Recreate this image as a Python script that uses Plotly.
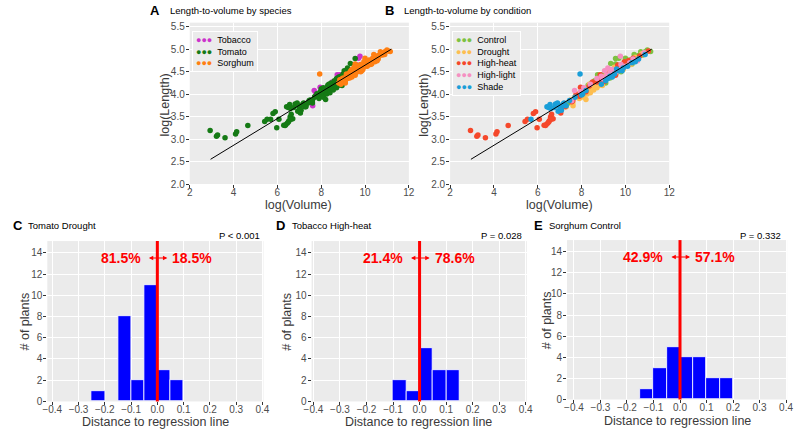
import plotly.graph_objects as go

# ---- scatter data: log(Volume), log(Length), condition code, read off panels A/B
# condition codes: C=Control D=Drought H=High-heat L=High-light S=Shade
tomato_vol = [2.93, 3.22, 3.27, 3.61, 4.09, 4.14, 4.65, 5.42, 5.53, 5.80, 5.90, 5.97,
              6.07, 6.29, 6.38, 6.45, 6.53, 6.58, 6.63, 6.70, 7.05, 7.25, 7.60, 7.90,
              6.35, 6.50, 6.62,
              5.69, 6.42, 6.50, 6.56, 6.75, 6.81, 6.90, 6.93, 7.01, 7.08, 7.16, 7.30,
              7.45, 7.70, 8.05, 8.20, 6.60, 6.95, 7.20,
              7.30, 7.50, 7.60, 7.70, 7.80, 7.90, 8.00, 8.10, 8.15, 8.20, 8.25, 8.30,
              8.35, 8.40, 8.45, 8.50, 8.55, 8.60, 8.65, 8.70, 8.75, 8.80, 8.90, 8.95,
              9.00, 9.10, 9.20,
              7.40, 7.80, 8.00, 8.30, 8.45, 8.60, 8.80, 9.00, 9.33, 9.55,
              7.55, 7.95, 8.10, 8.40, 8.70, 8.90, 9.05, 9.20]
tomato_len = [3.19, 3.06, 3.09, 3.03, 3.11, 3.16, 3.30, 3.39, 3.44, 3.57, 3.61, 3.25,
              3.44, 3.31, 3.32, 3.35, 3.41, 3.49, 3.55, 3.45, 3.58, 3.72, 3.86, 3.95,
              3.30, 3.38, 3.44,
              3.44, 3.72, 3.70, 3.77, 3.70, 3.78, 3.80, 3.62, 3.70, 3.64, 3.78, 3.74,
              3.86, 3.93, 4.00, 4.08, 3.68, 3.75, 3.80,
              3.72, 3.87, 3.80, 3.94, 4.01, 3.90, 4.00, 3.93, 4.08, 3.88, 4.00, 4.09,
              4.22, 4.03, 4.15, 4.12, 4.09, 4.20, 4.26, 4.14, 4.23, 4.20, 4.30, 4.19,
              4.31, 4.41, 4.48,
              3.80, 3.97, 4.12, 4.20, 4.25, 4.30, 4.38, 4.45, 4.68, 4.79,
              3.85, 4.05, 4.14, 4.22, 4.35, 4.40, 4.52, 4.58]
tomato_cond = list("H" * 27 + "S" * 19 + "D" * 27 + "C" * 10 + "L" * 8)

tobacco_vol = [7.55, 7.75, 7.95, 8.20, 8.35, 8.50, 8.70, 8.85, 9.00, 9.20, 9.35, 9.50,
               9.65, 9.80,
               7.16, 7.61, 8.28, 8.95, 9.17, 9.70, 9.77, 8.73, 7.68, 8.00, 8.50]
tobacco_len = [3.83, 3.99, 4.15, 4.05, 4.18, 4.27, 4.27, 4.43, 4.32, 4.44, 4.53, 4.51,
               4.65, 4.64,
               3.74, 3.74, 4.10, 4.28, 4.36, 4.80, 4.84, 4.43, 4.08, 3.98, 4.13]
tobacco_cond = list("H" * 14 + "SDCDLCLCLSD")

sorghum_vol = [9.10, 9.20, 9.30, 9.45, 9.55, 9.60, 9.70, 9.80, 9.90, 10.00, 10.10, 10.20,
               10.30, 10.40, 10.50, 10.60, 10.70, 10.80, 10.90, 11.00, 11.15,
               7.93, 8.90, 9.10, 9.20, 9.30, 9.50, 9.60, 9.70, 9.90, 10.10, 10.30, 10.60,
               9.40, 9.85, 10.45, 10.90,
               8.80, 9.00, 9.25, 9.40, 9.65, 9.85, 10.05, 10.25, 10.45, 10.75,
               9.15, 9.50, 9.90, 10.40,
               8.85, 9.05, 9.35, 9.55, 9.75, 9.95, 10.15, 10.35, 10.65, 11.05,
               8.95, 9.15, 9.40, 9.60, 9.80, 10.00, 10.20, 10.55, 10.85,
               9.30, 9.75, 10.35]
sorghum_len = [4.25, 4.37, 4.36, 4.51, 4.67, 4.48, 4.63, 4.50, 4.62, 4.80, 4.64, 4.76,
               4.67, 4.88, 4.77, 4.86, 4.94, 4.87, 4.94, 4.98, 4.95,
               4.45, 4.22, 4.30, 4.35, 4.40, 4.45, 4.56, 4.52, 4.58, 4.62, 4.70, 4.78,
               4.38, 4.52, 4.72, 4.88,
               4.25, 4.36, 4.45, 4.40, 4.58, 4.66, 4.70, 4.66, 4.82, 4.90,
               4.45, 4.60, 4.55, 4.75,
               4.32, 4.28, 4.52, 4.42, 4.60, 4.72, 4.75, 4.80, 4.85, 4.96,
               4.34, 4.42, 4.55, 4.50, 4.66, 4.62, 4.70, 4.74, 4.92,
               4.48, 4.55, 4.78]
sorghum_cond = list("C" * 21 + "S" * 16 + "D" * 14 + "H" * 10 + "L" * 12)

fit_vol = [2.95, 11.2]
fit_len = [2.55, 5.0]

species = ["Tobacco", "Tomato", "Sorghum"]
species_colors = ["#CC33CC", "#157A15", "#FF7F12"]
conditions = ["Control", "Drought", "High-heat", "High-light", "Shade"]
cond_codes = ["C", "D", "H", "L", "S"]
cond_colors = ["#7DC242", "#FDBE50", "#F5482B", "#F590C2", "#1A9ED8"]

# ---- histogram data (bin centres, width 0.05)
hist_titles = ["Tomato Drought", "Tobacco High-heat", "Sorghum Control"]
hist_bins = [[-0.225, -0.125, -0.075, -0.025, 0.025, 0.075],
             [-0.075, -0.025, 0.025, 0.075, 0.125],
             [-0.125, -0.075, -0.025, 0.025, 0.075, 0.125, 0.175]]
hist_counts = [[1, 8, 2, 11, 3, 2],
               [2, 1, 5, 3, 3],
               [1, 3, 5, 4, 4, 2, 2]]
pct_left = ["81.5%", "21.4%", "42.9%"]
pct_right = ["18.5%", "78.6%", "57.1%"]
p_values = ["P < 0.001", "P = 0.028", "P = 0.332"]

FONT = "Liberation Sans, Arial, sans-serif"
PANEL = "#EBEBEB"
TICK = "#4D4D4D"
W, H = 800, 435


def px(sx):
    return sx / W


def py(sy):
    return 1 - sy / H


all_vol = [tobacco_vol, tomato_vol, sorghum_vol]
all_len = [tobacco_len, tomato_len, sorghum_len]
all_cond = [tobacco_cond, tomato_cond, sorghum_cond]

fig = go.Figure()

# panel A: colour by species
for name, col, xs, ys in zip(species, species_colors, all_vol, all_len):
    fig.add_trace(go.Scatter(x=xs, y=ys, mode="markers", name=name,
                             marker=dict(color=col, size=5.5), showlegend=False,
                             xaxis="x", yaxis="y"))
fig.add_trace(go.Scatter(x=fit_vol, y=fit_len, mode="lines", showlegend=False,
                         line=dict(color="black", width=1), xaxis="x", yaxis="y"))

# panel B: colour by condition
for name, code, col in zip(conditions, cond_codes, cond_colors):
    xs, ys = [], []
    for vols, lens, conds in zip(all_vol, all_len, all_cond):
        for v, l, c in zip(vols, lens, conds):
            if c == code:
                xs.append(v)
                ys.append(l)
    fig.add_trace(go.Scatter(x=xs, y=ys, mode="markers", name=name,
                             marker=dict(color=col, size=5.5), showlegend=False,
                             xaxis="x2", yaxis="y2"))
fig.add_trace(go.Scatter(x=fit_vol, y=fit_len, mode="lines", showlegend=False,
                         line=dict(color="black", width=1), xaxis="x2", yaxis="y2"))

# histograms C-E
for i in range(3):
    n = str(i + 3)
    fig.add_trace(go.Bar(x=hist_bins[i], y=hist_counts[i], width=0.05,
                         marker=dict(color="#0000FF", line=dict(color="white", width=0.8)),
                         showlegend=False, xaxis="x" + n, yaxis="y" + n))
    fig.add_shape(type="line", x0=0, x1=0, y0=0, y1=1, xref="x" + n,
                  yref="y" + n + " domain", line=dict(color="#FF0000", width=3))

tick_font = dict(family=FONT, size=10, color=TICK)
title_font = dict(family=FONT, size=12.5, color="#3A3A3A")


def axis(x0, x1, rng, horizontal, **kw):
    dom = [px(x0), px(x1)] if horizontal else [py(x1), py(x0)]
    d = dict(domain=dom, range=rng, showgrid=True, gridcolor="white", gridwidth=1,
             zeroline=False, showline=False, ticks="outside", ticklen=3,
             tickcolor="#333333", tickfont=tick_font,
             ticklabelstandoff=-4 if horizontal else -1)
    d.update(kw)
    return d


layout = dict(
    width=W, height=H, margin=dict(l=0, r=0, t=0, b=0),
    paper_bgcolor="white", plot_bgcolor=PANEL, font=dict(family=FONT),
    bargap=0,
    xaxis=axis(185, 408, [2, 12], True, dtick=2, tick0=2, anchor="y"),
    yaxis=axis(22, 186, [2, 5.59], False, dtick=0.5, tick0=2, tickformat=".1f", anchor="x"),
    xaxis2=axis(450, 673, [2, 12], True, dtick=2, tick0=2, anchor="y2"),
    yaxis2=axis(22, 186, [2, 5.59], False, dtick=0.5, tick0=2, tickformat=".1f",
                anchor="x2"),
)
hist_xpx = [(40, 260), (309, 528), (569, 793)]
hist_xr = [[-0.419, 0.404], [-0.407, 0.404], [-0.426, 0.404]]
hist_ypx = [(244, 407), (244, 407), (243, 405)]
for i in range(3):
    n = str(i + 3)
    layout["xaxis" + n] = axis(*hist_xpx[i], hist_xr[i], True, dtick=0.1, tick0=-0.4,
                               tickformat=".1f", anchor="y" + n)
    layout["yaxis" + n] = axis(*hist_ypx[i], [0, 15.1], False, dtick=2, tick0=0,
                               anchor="x" + n)
fig.update_layout(**layout)

ann = []
# axis titles
axis_titles = [(296, 207, "log(Volume)", 0), (160, 106, "log(Length)", -90),
               (561, 207, "log(Volume)", 0), (424, 106, "log(Length)", -90),
               (150, 428, "Distance to regression line", 0), (17, 326, "# of plants", -90),
               (418, 428, "Distance to regression line", 0), (284, 326, "# of plants", -90),
               (681, 427, "Distance to regression line", 0), (548, 324, "# of plants", -90)]
for sx, sy, txt, ang in axis_titles:
    ann.append(dict(x=px(sx), y=py(sy), xref="paper", yref="paper", text=txt,
                    textangle=ang, showarrow=False, xanchor="center", yanchor="middle",
                    font=title_font))

# panel letters and titles
panel_pos = [(143, 163, 10, "A", "Length-to-volume by species"),
             (382, 401, 10, "B", "Length-to-volume by condition"),
             (3, 18, 228, "C", hist_titles[0]),
             (271, 287, 228, "D", hist_titles[1]),
             (533, 549, 228, "E", hist_titles[2])]
for lx, tx, sy, letter, txt in panel_pos:
    ann.append(dict(x=px(lx), y=py(sy), xref="paper", yref="paper",
                    text="<b>" + letter + "</b>", showarrow=False, xanchor="left",
                    yanchor="middle", font=dict(family=FONT, size=13, color="black")))
    ann.append(dict(x=px(tx), y=py(sy), xref="paper", yref="paper", text=txt,
                    showarrow=False, xanchor="left", yanchor="middle",
                    font=dict(family=FONT, size=9.5, color="black")))


def legend_text(names, cols):
    rows = ["<span style='color:%s'>\u25cf\u25cf\u25cf</span>  %s" % (c, nm)
            for nm, c in zip(names, cols)]
    return "<br>".join(rows)


for lx, ly, names, cols in [(187, 30, species, species_colors),
                            (452, 30, conditions, cond_colors)]:
    ann.append(dict(x=px(lx), y=py(ly), xref="paper", yref="paper",
                    text=legend_text(names, cols), showarrow=False, xanchor="left",
                    yanchor="top", align="left", bgcolor=PANEL, bordercolor="white",
                    borderwidth=1, borderpad=3,
                    font=dict(family=FONT, size=9, color="black")))

p_right = [259, 525, 789]
for i in range(3):
    n = str(i + 3)
    ann.append(dict(x=px(p_right[i]), y=py(238), xref="paper", yref="paper",
                    text=p_values[i], showarrow=False, xanchor="right", yanchor="middle",
                    font=dict(family=FONT, size=9.5, color="black")))
    yy = 13.5
    red = dict(family=FONT, size=14, color="#FF0000")
    ann.append(dict(x=-0.055, y=yy, xref="x" + n, yref="y" + n,
                    text="<b>" + pct_left[i] + "</b>", showarrow=False,
                    xanchor="right", yanchor="middle", font=red))
    ann.append(dict(x=0.05, y=yy, xref="x" + n, yref="y" + n,
                    text="<b>" + pct_right[i] + "</b>", showarrow=False,
                    xanchor="left", yanchor="middle", font=red))
    ann.append(dict(x=0.038, y=yy, ax=-0.038, ay=yy, xref="x" + n, yref="y" + n,
                    axref="x" + n, ayref="y" + n, text="", showarrow=True,
                    arrowside="end+start", arrowhead=2, arrowsize=0.8, arrowwidth=1.1,
                    arrowcolor="#FF0000"))
fig.update_layout(annotations=ann)

# keep the figure flush with the page corner, no modebar
fig.write_html("out.html", config={"displayModeBar": False},
               post_script="document.body.style.margin='0';"
                           "document.body.style.overflow='hidden';")
